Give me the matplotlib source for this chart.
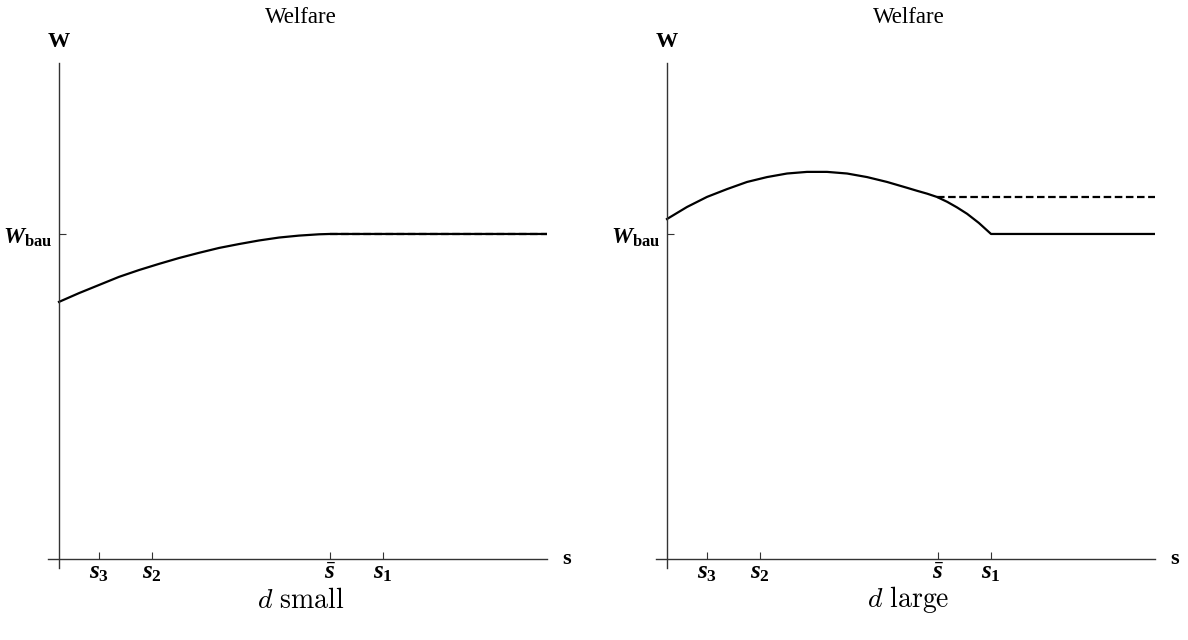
import matplotlib
matplotlib.use("Agg")
import matplotlib.pyplot as plt

plt.rcParams["mathtext.fontset"] = "custom"
plt.rcParams["mathtext.it"] = "Liberation Serif:bold:italic"
plt.rcParams["mathtext.rm"] = "Liberation Serif:bold"
plt.rcParams["mathtext.bf"] = "Liberation Serif:bold"

# tick positions on the s axis and their labels
s_ticks = [0.82, 1.9, 5.55, 6.64]
s_labels = [r"$s_3$", r"$s_2$", r"$\bar{s}$", r"$s_1$"]
w_bau = 1.0

# d small: welfare rises to W_bau at s-bar, then flat
small_s = [0.0, 0.41, 0.82, 1.23, 1.64, 2.05, 2.46, 2.87, 3.28, 3.69,
           4.10, 4.51, 4.92, 5.33, 5.55, 10.0]
small_w = [0.791, 0.818, 0.843, 0.868, 0.889, 0.908, 0.926, 0.942, 0.957, 0.969,
           0.980, 0.989, 0.995, 0.999, 1.0, 1.0]
small_dash_s = [5.55, 10.0]
small_dash_w = [1.0, 1.0]

# d large: hump, falls to W_bau at s1, then flat
large_s = [0.0, 0.41, 0.82, 1.23, 1.64, 2.05, 2.46, 2.87, 3.28, 3.69,
           4.10, 4.51, 4.92, 5.12, 5.33, 5.53, 5.74, 5.94, 6.15, 6.39, 6.64, 10.0]
large_w = [1.046, 1.083, 1.114, 1.138, 1.160, 1.175, 1.186, 1.191, 1.191, 1.186,
           1.175, 1.160, 1.142, 1.133, 1.124, 1.114, 1.099, 1.082, 1.062, 1.034,
           1.0, 1.0]
large_dash_s = [5.53, 10.0]
large_dash_w = [1.114, 1.114]

panels = [
    (small_s, small_w, small_dash_s, small_dash_w, r"$d\ \mathrm{small}$"),
    (large_s, large_w, large_dash_s, large_dash_w, r"$d\ \mathrm{large}$"),
]

fig = plt.figure(figsize=(11.88, 6.4), dpi=100)
lefts = [48 / 1188, 656 / 1188]

for left, (xs, ws, dxs, dws, caption) in zip(lefts, panels):
    ax = fig.add_axes([left, 72 / 640, 499 / 1188, 505 / 640])
    ax.set_xlim(-0.225, 10)
    ax.set_ylim(-0.0277, 1.526)

    for side in ("top", "right"):
        ax.spines[side].set_visible(False)
    ax.spines["left"].set_position(("data", 0))
    ax.spines["bottom"].set_position(("data", 0))
    for side in ("left", "bottom"):
        ax.spines[side].set_color("#333333")
        ax.spines[side].set_linewidth(1.0)

    ax.plot(xs, ws, color="black", lw=1.6, solid_joinstyle="round")
    ax.plot(dxs, dws, color="black", lw=1.6, dashes=(3.4, 1.6))

    ax.set_xticks(s_ticks)
    ax.set_xticklabels(s_labels, fontsize=18)
    ax.set_yticks([w_bau])
    ax.set_yticklabels([r"$W_{\mathrm{bau}}$"], fontsize=17)
    ax.tick_params(direction="in", length=5, width=0.8, color="#333333")
    ax.tick_params(axis="x", pad=1)
    ax.tick_params(axis="y", pad=5)

    ax.text(0, 1.59, "W", fontfamily="Liberation Serif", fontweight="bold",
            fontsize=16, ha="center", va="center", clip_on=False)
    ax.text(10.41, 0, "s", fontfamily="Liberation Serif", fontweight="bold",
            fontsize=16, ha="center", va="center", clip_on=False)
    ax.text(4.96, 1.665, "Welfare", fontfamily="Liberation Serif",
            fontsize=16.5, ha="center", va="center", clip_on=False)
    ax.text(4.95, -0.125, caption, math_fontfamily="cm", fontsize=20,
            ha="center", va="center", clip_on=False)

fig.savefig("out.png", dpi=100)
